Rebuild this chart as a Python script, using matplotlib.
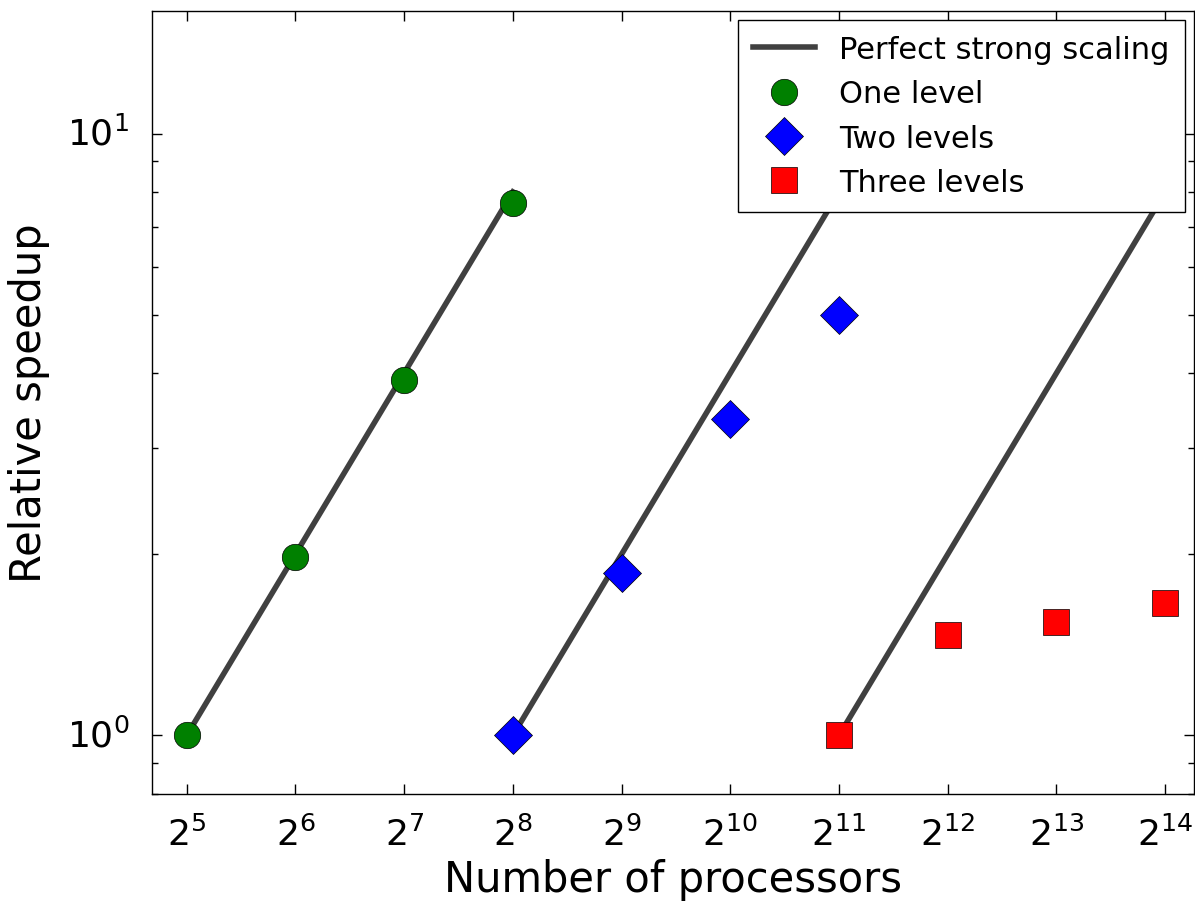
import numpy as np
import matplotlib
matplotlib.use('Agg')
import matplotlib.pyplot as plt

plt.style.use('classic')

# processor counts and measured speedups
procs_one = [32, 64, 128, 256]
speedup_one = [1.0, 1.98, 3.89, 7.68]

procs_two = [256, 512, 1024, 2048]
speedup_two = [1.0, 1.86, 3.36, 5.0]

procs_three = [2048, 4096, 8192, 16384]
speedup_three = [1.0, 1.47, 1.54, 1.66]

ideal_starts = [32, 256, 2048]

fig = plt.figure(figsize=(11.95, 9.03), dpi=100)
ax = fig.add_axes([0.127, 0.12, 0.872, 0.867])

for i, p0 in enumerate(ideal_starts):
    p = np.array([p0, p0 * 8])
    ax.plot(p, p / p0, '-', color='#404040', lw=4,
            label='Perfect strong scaling' if i == 0 else None)

ms = 19
ax.plot(procs_one, speedup_one, 'o', color='green', mec='black', ms=ms, label='One level')
ax.plot(procs_two, speedup_two, 'D', color='blue', mec='black', ms=ms, label='Two levels')
ax.plot(procs_three, speedup_three, 's', color='red', mec='black', ms=ms, label='Three levels')

ax.set_xscale('log', base=2)
ax.set_yscale('log')
ax.set_xlim(32 * 0.8, 16384 * 1.2)
ax.set_ylim(0.8, 16)
ax.set_xticks([2 ** k for k in range(5, 15)])
ax.xaxis.set_minor_locator(matplotlib.ticker.NullLocator())

ax.tick_params(which='major', length=7, width=1, labelsize=26, pad=16)
ax.tick_params(which='minor', length=4, width=1)

ax.set_xlabel('Number of processors', fontsize=30, labelpad=4)
ax.set_ylabel('Relative speedup', fontsize=30, labelpad=12)

ax.legend(loc='upper right', numpoints=1, fontsize=22, frameon=True,
          borderaxespad=0.3, borderpad=0.5, handlelength=2.0)

fig.savefig('out.png', dpi=100)
